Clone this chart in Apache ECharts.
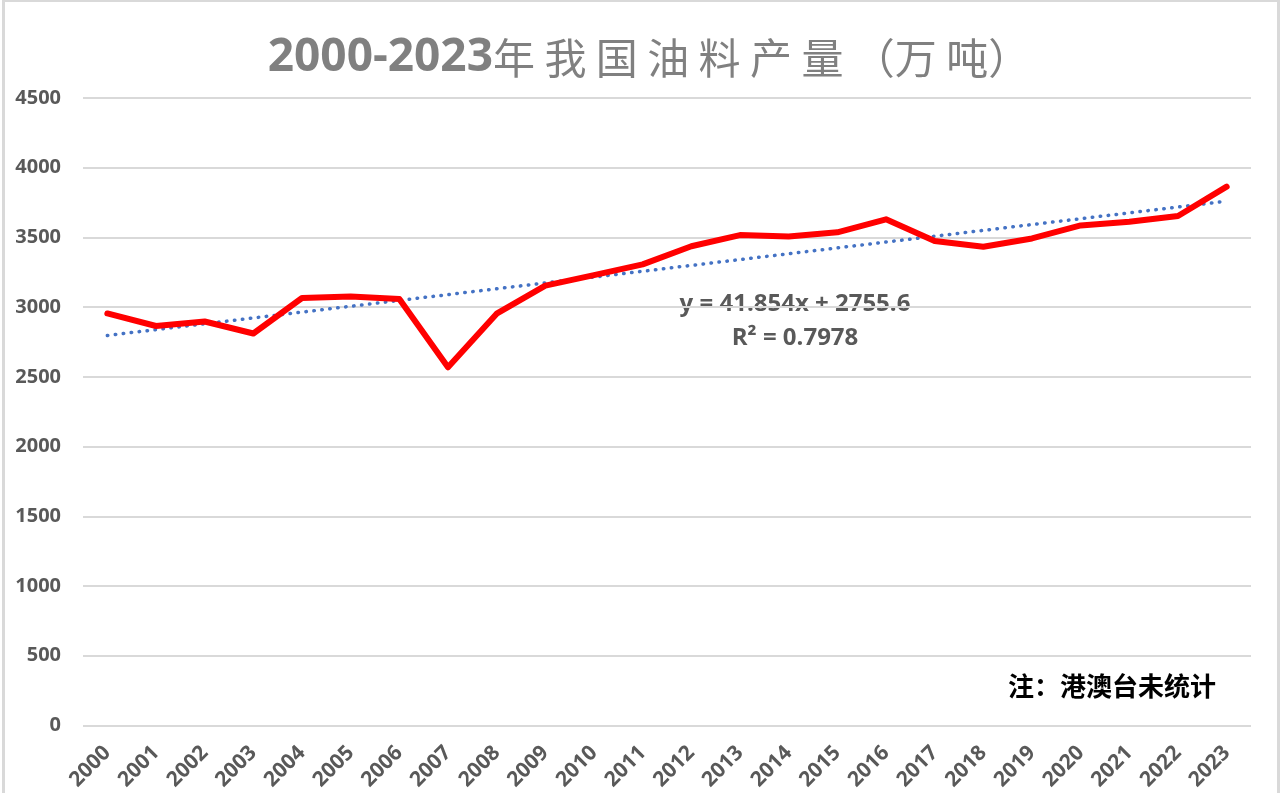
<!DOCTYPE html>
<html>
<head>
<meta charset="utf-8">
<script src="https://cdn.jsdelivr.net/npm/echarts@6/dist/echarts.min.js"></script>
<style>
  html, body { margin: 0; padding: 0; background: #fff; }
  #chart { width: 1280px; height: 793px; }
</style>
</head>
<body>
<div id="chart"></div>
<script>
// 年份
const years = ['2000', '2001', '2002', '2003', '2004', '2005', '2006', '2007', '2008', '2009', '2010', '2011',
  '2012', '2013', '2014', '2015', '2016', '2017', '2018', '2019', '2020', '2021', '2022', '2023'];
// 油料产量（万吨）
const output = [2955, 2865, 2897, 2811, 3066, 3077, 3059, 2569, 2953, 3154, 3230, 3307,
  3437, 3517, 3507, 3537, 3630, 3475, 3433, 3493, 3586, 3613, 3654, 3864];
// 趋势线两端（图上读取）
const trendEnds = [2797, 3760];
const trendText = ['y = 41.854x + 2755.6', 'R\u00b2 = 0.7978'];
const yTicks = { min: 0, max: 4500, interval: 500 };

const trend = years.map((_, i) => i === 0 ? trendEnds[0] : (i === years.length - 1 ? trendEnds[1] : null));

const chart = echarts.init(document.getElementById('chart'));

const option = {
  backgroundColor: '#fff',
  animation: false,
  title: {
    // 中文部分加空格拉开字距
    text: '{d|2000-2023}{c|年 我 国 油 料 产 量 （万 吨）}',
    left: 644,
    textAlign: 'center',
    top: 30,
    textStyle: {
      rich: {
        d: {
          fontFamily: '"Open Sans", sans-serif',
          fontSize: 46,
          fontWeight: 'bold',
          color: '#808080'
        },
        c: {
          fontFamily: '"Noto Sans CJK SC", sans-serif',
          fontSize: 42,
          fontWeight: 'normal',
          color: '#808080'
        }
      }
    }
  },
  grid: { left: 83, right: 29, top: 98, bottom: 67 },
  xAxis: {
    type: 'category',
    data: years,
    boundaryGap: true,
    axisLine: { show: false },
    axisTick: { show: false },
    axisLabel: {
      rotate: 45,
      interval: 0,
      margin: 24,
      color: '#595959',
      fontFamily: '"Open Sans", sans-serif',
      fontWeight: 'bold',
      fontSize: 21
    }
  },
  yAxis: {
    type: 'value',
    min: yTicks.min,
    max: yTicks.max,
    interval: yTicks.interval,
    axisLine: { show: false },
    axisTick: { show: false },
    splitLine: { lineStyle: { color: '#d9d9d9', width: 2 } },
    axisLabel: {
      margin: 22,
      formatter: v => String(v),
      color: '#595959',
      fontFamily: '"Open Sans", sans-serif',
      fontWeight: 'bold',
      fontSize: 20
    }
  },
  series: [
    {
      name: '油料产量',
      type: 'line',
      data: output,
      symbol: 'none',
      lineStyle: { color: '#ff0000', width: 6, cap: 'round', join: 'round' },
      z: 3
    },
    {
      name: '线性趋势',
      type: 'line',
      data: trend,
      connectNulls: true,
      symbol: 'none',
      lineStyle: { color: '#4472c4', width: 3.5, type: [0.5, 7.5], cap: 'round' },
      z: 2
    }
  ],
  graphic: [
    {
      type: 'rect',
      left: 1, top: -2,
      shape: { width: 1275, height: 800 },
      style: { fill: 'none', stroke: '#d9d9d9', lineWidth: 3 },
      silent: true
    },
    {
      type: 'text',
      x: 795, y: 304,
      style: {
        text: trendText[0],
        align: 'center', verticalAlign: 'middle',
        fill: '#595959',
        font: 'bold 24px "Open Sans", sans-serif'
      }
    },
    {
      type: 'text',
      x: 795, y: 338,
      style: {
        text: trendText[1],
        align: 'center', verticalAlign: 'middle',
        fill: '#595959',
        font: 'bold 24px "Open Sans", sans-serif'
      }
    },
    {
      type: 'text',
      x: 1216, y: 686,
      style: {
        text: '注：港澳台未统计',
        align: 'right', verticalAlign: 'middle',
        fill: '#000',
        font: 'bold 26px "Noto Sans CJK SC", sans-serif'
      }
    }
  ]
};

chart.setOption(option);
</script>
</body>
</html>
